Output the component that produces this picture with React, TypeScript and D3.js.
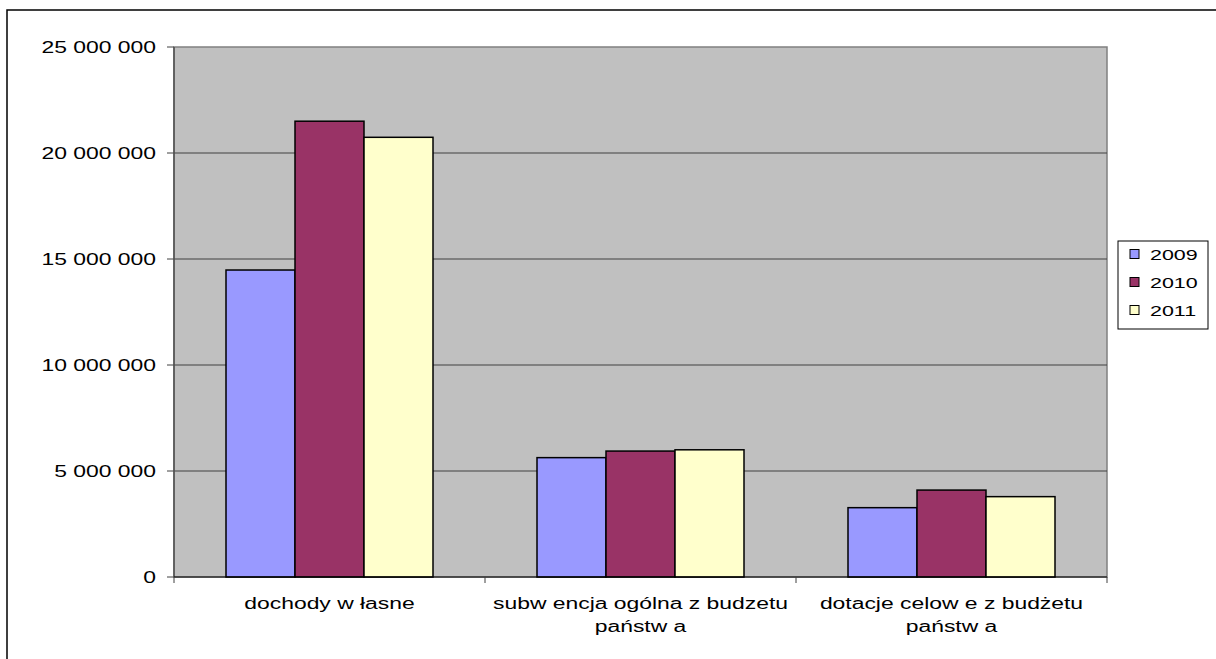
import * as d3 from 'd3';

const categories = [
  ['dochody w łasne'],
  ['subw encja ogólna z budzetu', 'państw a'],
  ['dotacje celow e z budżetu', 'państw a'],
];
const years = ['2009', '2010', '2011'];
const values2009 = [14480000, 5630000, 3270000];
const values2010 = [21500000, 5940000, 4100000];
const values2011 = [20740000, 6000000, 3790000];
const yTicks = [0, 5000000, 10000000, 15000000, 20000000, 25000000];

const SERIES = [values2009, values2010, values2011];
const COLORS = ['#9999FF', '#993366', '#FFFFCC'];
const W = 1216;
const H = 659;
const PLOT = { left: 174, right: 1107, top: 47, bottom: 577 };
const FONT = '"Liberation Sans", Arial, sans-serif';
// the source picture is stretched sideways, text included
const SX = 1.43;

const fmt = d3
  .formatLocale({ decimal: ',', thousands: ' ', grouping: [3], currency: ['', ''] })
  .format(',');

function Label({ x, y, anchor, size, children }: { x: number; y: number; anchor: string; size: number; children: any }) {
  return (
    <text transform={`translate(${x},${y}) scale(${SX},1)`} textAnchor={anchor} fontSize={size} fill="#000">
      {children}
    </text>
  );
}

export default function App() {
  const y = d3.scaleLinear().domain([0, 25000000]).range([PLOT.bottom, PLOT.top]);

  // groups take 3 bars, gap between groups = 1.5 bars (Excel gap width 150%)
  const inner = 104 / 311;
  const x0 = d3
    .scaleBand<number>()
    .domain(categories.map((_, i) => i))
    .range([PLOT.left, PLOT.right])
    .paddingInner(inner)
    .paddingOuter(inner / 2);
  const x1 = d3.scaleBand<string>().domain(years).range([0, x0.bandwidth()]).padding(0);
  const step = x0.step();
  const bounds = d3.range(categories.length + 1).map((i) => PLOT.left + i * step);

  return (
    <div style={{ position: 'absolute', left: 0, top: 0 }}>
      <svg width={W} height={H} style={{ display: 'block', background: '#fff' }} fontFamily={FONT}>
        {/* outer chart frame */}
        <rect x={7} y={10} width={W + 10} height={H + 10} fill="none" stroke="#000" strokeWidth={1.5} />

        {/* plot area */}
        <rect
          x={PLOT.left}
          y={PLOT.top}
          width={PLOT.right - PLOT.left}
          height={PLOT.bottom - PLOT.top}
          fill="#C0C0C0"
          stroke="#808080"
          strokeWidth={1.5}
        />

        {/* gridlines + y ticks */}
        {yTicks.map((t) => (
          <g key={t}>
            {t > 0 && t < 25000000 && (
              <line x1={PLOT.left} x2={PLOT.right} y1={y(t)} y2={y(t)} stroke="#404040" strokeWidth={1} />
            )}
            <line x1={PLOT.left - 7} x2={PLOT.left} y1={y(t)} y2={y(t)} stroke="#404040" strokeWidth={1} />
            <Label x={156} y={y(t) + 5.8} anchor="end" size={16}>
              {fmt(t)}
            </Label>
          </g>
        ))}
        <line x1={PLOT.left} x2={PLOT.left} y1={PLOT.top} y2={PLOT.bottom} stroke="#505050" strokeWidth={1.5} />

        {/* bars */}
        {categories.map((_, ci) => (
          <g key={ci} transform={`translate(${x0(ci)},0)`}>
            {years.map((yr, si) => (
              <rect
                key={yr}
                x={x1(yr)}
                y={y(SERIES[si][ci])}
                width={x1.bandwidth()}
                height={PLOT.bottom - y(SERIES[si][ci])}
                fill={COLORS[si]}
                stroke="#000"
                strokeWidth={1.5}
              />
            ))}
          </g>
        ))}

        {/* x axis */}
        <line x1={PLOT.left} x2={PLOT.right} y1={PLOT.bottom} y2={PLOT.bottom} stroke="#000" strokeWidth={1.2} />
        {bounds.map((bx) => (
          <line key={bx} x1={bx} x2={bx} y1={PLOT.bottom} y2={PLOT.bottom + 6} stroke="#404040" strokeWidth={1} />
        ))}
        {categories.map((lines, ci) =>
          lines.map((ln, li) => (
            <Label key={`${ci}-${li}`} x={(x0(ci) ?? 0) + x0.bandwidth() / 2} y={608.5 + li * 23} anchor="middle" size={16}>
              {ln}
            </Label>
          )),
        )}

        {/* legend */}
        <rect x={1118} y={241} width={90} height={88} fill="#fff" stroke="#000" strokeWidth={1} />
        {years.map((yr, i) => (
          <g key={yr}>
            <rect x={1130} y={254 + i * 28 - 4.5} width={9} height={9} fill={COLORS[i]} stroke="#000" strokeWidth={1} />
            <Label x={1150} y={254 + i * 28 + 5.5} anchor="start" size={15}>
              {yr}
            </Label>
          </g>
        ))}
      </svg>
    </div>
  );
}
